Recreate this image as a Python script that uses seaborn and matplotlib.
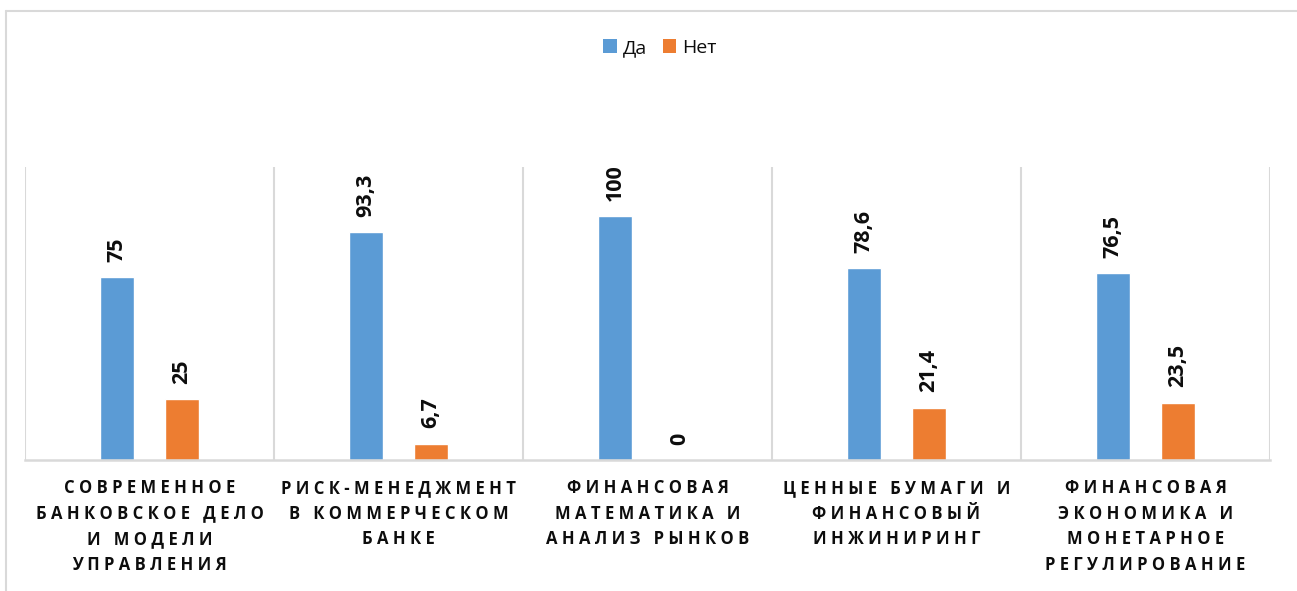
import pandas as pd
import seaborn as sns
import matplotlib.pyplot as plt
from matplotlib.lines import Line2D
from matplotlib.patches import Patch

# Survey data: share of respondents per course (%)
categories = [
    "Современное банковское дело и модели управления",
    "Риск-менеджмент в коммерческом банке",
    "Финансовая математика и анализ рынков",
    "Ценные бумаги и финансовый инжиниринг",
    "Финансовая экономика и монетарное регулирование",
]
tick_lines = [
    ["СОВРЕМЕННОЕ", "БАНКОВСКОЕ ДЕЛО", "И МОДЕЛИ", "УПРАВЛЕНИЯ"],
    ["РИСК-МЕНЕДЖМЕНТ", "В КОММЕРЧЕСКОМ", "БАНКЕ"],
    ["ФИНАНСОВАЯ", "МАТЕМАТИКА И", "АНАЛИЗ РЫНКОВ"],
    ["ЦЕННЫЕ БУМАГИ И", "ФИНАНСОВЫЙ", "ИНЖИНИРИНГ"],
    ["ФИНАНСОВАЯ", "ЭКОНОМИКА И", "МОНЕТАРНОЕ", "РЕГУЛИРОВАНИЕ"],
]
series = ["Да", "Нет"]
yes_vals = [75, 93.3, 100, 78.6, 76.5]
no_vals = [25, 6.7, 0, 21.4, 23.5]
colors = ["#5B9BD5", "#ED7D31"]
grid_col = "#D9D9D9"

df = pd.DataFrame({
    "course": categories * 2,
    "answer": [series[0]] * 5 + [series[1]] * 5,
    "value": yes_vals + no_vals,
})

sns.set_theme(style="white")
plt.rcParams["font.family"] = ["Open Sans", "DejaVu Sans"]

fig = plt.figure(figsize=(12.97, 5.91), dpi=100)
ax = fig.add_axes([25 / 1297, 1 - 460 / 591, (1270 - 25) / 1297, (460 - 167) / 591])

sns.barplot(data=df, x="course", y="value", hue="answer", palette=colors,
            width=0.522, gap=0.477, saturation=1, legend=False, ax=ax)

ax.set_xlim(-0.5, 4.5)
ax.set_ylim(0, 120)
ax.set_xlabel("")
ax.set_ylabel("")
ax.set_yticks([])

# separators between categories
ax.vlines([i - 0.5 for i in range(6)], 0, 120, color=grid_col, lw=1.5, zorder=0)

for s in ["top", "left", "right"]:
    ax.spines[s].set_visible(False)
ax.spines["bottom"].set_color(grid_col)
ax.spines["bottom"].set_linewidth(1.8)


def spaced(line):
    # letter-spaced caps like the original
    return "   ".join(" ".join(w) for w in line.split(" "))


ax.set_xticks(range(5))
ax.set_xticklabels(["\n".join(spaced(l) for l in lines) for lines in tick_lines],
                   fontsize=12, fontweight="bold", color="#0D0D0D", linespacing=1.56,
                   va="top")
ax.tick_params(axis="x", length=0, pad=13.5)

# value labels
for cont, vals in zip(ax.containers, [yes_vals, no_vals]):
    ax.bar_label(cont, labels=[f"{v:g}".replace(".", ",") for v in vals],
                 rotation=90, padding=11, fontsize=15.5, fontweight="bold",
                 color="#0D0D0D")

handles = [Patch(facecolor=c, edgecolor="none") for c in colors]
fig.legend(handles, series, loc="center", bbox_to_anchor=(660 / 1297, 1 - 48 / 591),
           ncol=2, frameon=False, fontsize=14, handlelength=0.7, handleheight=0.7,
           handletextpad=0.3, columnspacing=0.8, labelcolor="#0D0D0D")

# outer chart frame (cropped on right and bottom)
fig.add_artist(Line2D([6 / 1297, 1], [1 - 10.5 / 591] * 2, color=grid_col, lw=1.5,
                      transform=fig.transFigure))
fig.add_artist(Line2D([6 / 1297] * 2, [0, 1 - 10.5 / 591], color=grid_col, lw=1.5,
                      transform=fig.transFigure))

fig.savefig("out.png", dpi=100, facecolor="white")
